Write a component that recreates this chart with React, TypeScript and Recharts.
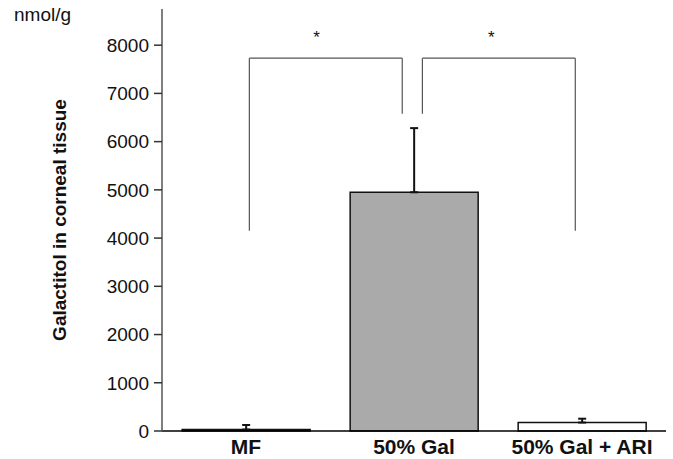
import {
	Bar,
	BarChart,
	Cell,
	ErrorBar,
	ReferenceDot,
	ReferenceLine,
	XAxis,
	YAxis,
} from "recharts";

const groups = ["MF", "50% Gal", "50% Gal + ARI"];
const galactitol = [30, 4950, 175];
const upperError = [95, 1330, 80];
const barFills = ["#ffffff", "#aaaaaa", "#ffffff"];

const majorTicks = [0, 1000, 2000, 3000, 4000, 5000, 6000, 7000, 8000];
const minorTicks = [500, 1500, 2500, 3500, 4500, 5500, 6500, 7500];
const yMax = 8750;

// significance brackets, x in category units (0..3), y in nmol/g
const brackets = [
	{ x1: 0.52, x2: 1.43, low1: 4150, low2: 6580, top: 7730 },
	{ x1: 1.55, x2: 2.46, low1: 6580, low2: 4150, top: 7730 },
];
const stars = [
	{ x: 0.92, y: 8170 },
	{ x: 1.96, y: 8170 },
];

const data = groups.map((g, i) => ({
	group: g,
	pos: i + 0.5,
	value: galactitol[i],
	err: [0, upperError[i]],
}));

/**
 * 角膜組織中のガラクチトール量（棒グラフ＋有意差ブラケット）
 */
export default function App() {
	return (
		<div
			style={{
				position: "absolute",
				left: 0,
				top: 0,
				width: 673,
				height: 459,
				background: "#fff",
				fontFamily: "'Liberation Sans', Arial, sans-serif",
			}}
		>
			<div
				style={{
					position: "absolute",
					left: 14,
					top: 4,
					fontSize: 19,
					color: "#111",
				}}
			>
				nmol/g
			</div>
			<BarChart
				width={673}
				height={459}
				data={data}
				margin={{ top: 9, right: 7, bottom: 0, left: 0 }}
				barCategoryGap="12%"
			>
				<XAxis
					xAxisId="cat"
					dataKey="group"
					axisLine={{ stroke: "#000", strokeWidth: 1.5 }}
					tickLine={false}
					tickSize={6}
					tickMargin={2}
					height={28}
					tick={{ fill: "#111", fontSize: 21, fontWeight: "bold" }}
				/>
				<XAxis
					xAxisId="num"
					dataKey="pos"
					type="number"
					domain={[0, 3]}
					allowDataOverflow
					hide
				/>
				<YAxis
					yAxisId="minor"
					width={0}
					domain={[0, yMax]}
					ticks={minorTicks}
					interval={0}
					axisLine={false}
					tick={false}
					tickSize={4}
					tickLine={{ stroke: "#555" }}
				/>
				<YAxis
					yAxisId="major"
					width={162}
					domain={[0, yMax]}
					ticks={majorTicks}
					interval={0}
					axisLine={{ stroke: "#555", strokeWidth: 1.5 }}
					tickLine={{ stroke: "#333", strokeWidth: 1.5 }}
					tickSize={8}
					tickMargin={5}
					tick={{ fill: "#111", fontSize: 19 }}
					label={{
						value: "Galactitol in corneal tissue",
						angle: -90,
						position: "insideLeft",
						offset: 59,
						style: {
							textAnchor: "middle",
							fontWeight: "bold",
							fontSize: 19,
							fill: "#111",
						},
					}}
				/>
				<Bar
					xAxisId="cat"
					yAxisId="major"
					dataKey="value"
					stroke="#111"
					strokeWidth={1.5}
					isAnimationActive={false}
				>
					{data.map((d, i) => (
						<Cell key={d.group} fill={barFills[i]} />
					))}
					<ErrorBar
						dataKey="err"
						width={4}
						stroke="#111"
						strokeWidth={2}
						direction="y"
						isAnimationActive={false}
					/>
				</Bar>
				{brackets.map((b, i) => (
					<ReferenceLine
						key={`l${i}`}
						xAxisId="num"
						yAxisId="major"
						segment={[
							{ x: b.x1, y: b.low1 },
							{ x: b.x1, y: b.top },
						]}
						stroke="#555"
						strokeWidth={1.2}
					/>
				))}
				{brackets.map((b, i) => (
					<ReferenceLine
						key={`t${i}`}
						xAxisId="num"
						yAxisId="major"
						segment={[
							{ x: b.x1, y: b.top },
							{ x: b.x2, y: b.top },
						]}
						stroke="#555"
						strokeWidth={1.2}
					/>
				))}
				{brackets.map((b, i) => (
					<ReferenceLine
						key={`r${i}`}
						xAxisId="num"
						yAxisId="major"
						segment={[
							{ x: b.x2, y: b.low2 },
							{ x: b.x2, y: b.top },
						]}
						stroke="#555"
						strokeWidth={1.2}
					/>
				))}
				{stars.map((s, i) => (
					<ReferenceDot
						key={`s${i}`}
						xAxisId="num"
						yAxisId="major"
						x={s.x}
						y={s.y}
						r={0}
						fill="none"
						stroke="none"
						label={{
							value: "*",
							position: "center",
							fontSize: 17,
							fill: "#111",
						}}
					/>
				))}
			</BarChart>
		</div>
	);
}
